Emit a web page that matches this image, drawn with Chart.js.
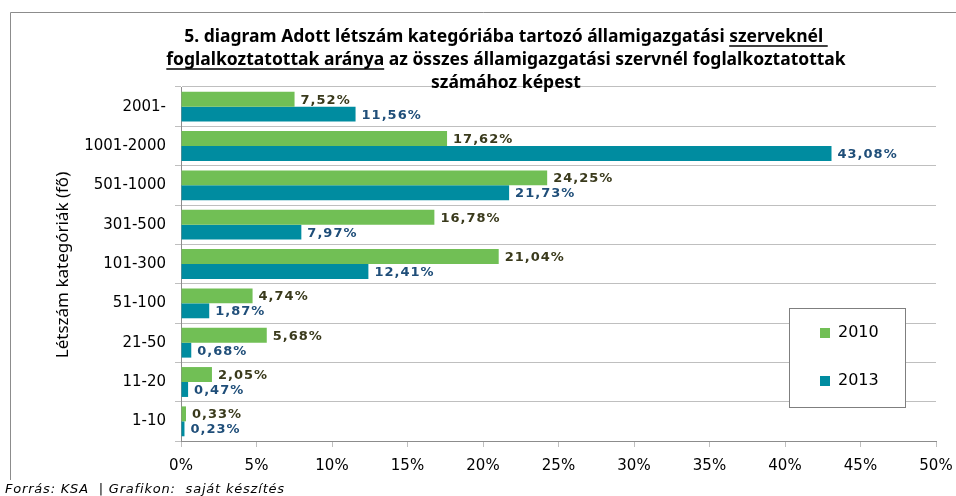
<!DOCTYPE html>
<html>
<head>
<meta charset="utf-8">
<script src="https://cdn.jsdelivr.net/npm/chart.js@4"></script>
<style>
  html, body { margin: 0; padding: 0; background: #fff; }
  #wrap { width: 956px; height: 496px; position: relative; }
</style>
</head>
<body>
<div id="wrap"><canvas id="chart" width="956" height="496"></canvas></div>
<script>
const categories = ['2001-', '1001-2000', '501-1000', '301-500', '101-300', '51-100', '21-50', '11-20', '1-10'];
const values2010 = [7.52, 17.62, 24.25, 16.78, 21.04, 4.74, 5.68, 2.05, 0.33];
const values2013 = [11.56, 43.08, 21.73, 7.97, 12.41, 1.87, 0.68, 0.47, 0.23];
const xTicks = [0, 5, 10, 15, 20, 25, 30, 35, 40, 45, 50];

const titleLines = [
  [['5. diagram Adott létszám kategóriába tartozó államigazgatási ', false], ['szerveknél ', true]],
  [['foglalkoztatottak aránya', true], [' az összes államigazgatási szervnél foglalkoztatottak', false]],
  [['számához képest', false]],
];

const GREEN = '#71bf55';
const TEAL = '#008ca0';
const GRID = '#bfbfbf';

const fmt = (v) => v.toFixed(2).replace('.', ',') + '%';

// frame, title, axis title, footer
const decorations = {
  id: 'decorations',
  beforeDraw(chart) {
    const ctx = chart.ctx;
    ctx.save();
    ctx.strokeStyle = '#8c8c8c';
    ctx.lineWidth = 1;
    ctx.beginPath();
    ctx.moveTo(10.5, 480);
    ctx.lineTo(10.5, 12.5);
    ctx.lineTo(956, 12.5);
    ctx.stroke();
    ctx.restore();
  },
  afterDraw(chart) {
    const ctx = chart.ctx;
    ctx.save();
    ctx.fillStyle = '#000';
    ctx.strokeStyle = '#000';
    ctx.textBaseline = 'alphabetic';
    ctx.font = 'bold 17.5px "Noto Sans", sans-serif';
    const lineY = [42, 65, 88];
    titleLines.forEach((segs, i) => {
      const total = segs.reduce((s, seg) => s + ctx.measureText(seg[0]).width, 0);
      let x = 506 - total / 2;
      segs.forEach(([txt, under]) => {
        const w = ctx.measureText(txt).width;
        ctx.textAlign = 'left';
        ctx.fillText(txt, x, lineY[i]);
        if (under) {
          ctx.lineWidth = 1.3;
          ctx.beginPath();
          ctx.moveTo(x, lineY[i] + 4);
          ctx.lineTo(x + w, lineY[i] + 4);
          ctx.stroke();
        }
        x += w;
      });
    });

    // y axis title
    ctx.save();
    ctx.translate(63, 265);
    ctx.rotate(-Math.PI / 2);
    ctx.textAlign = 'center';
    ctx.textBaseline = 'middle';
    ctx.font = '17px "Noto Sans", sans-serif';
    ctx.fillText('Létszám kategóriák (fő)', 0, 0);
    ctx.restore();

    // footer
    ctx.textAlign = 'left';
    ctx.font = 'italic 13px "DejaVu Sans", sans-serif';
    ctx.letterSpacing = '0.8px';
    ctx.fillStyle = '#000';
    ctx.fillText('Forrás: KSA  | Grafikon:  saját készítés', 5, 493);
    ctx.restore();
  },
};

// value labels at bar ends
const barLabels = {
  id: 'barLabels',
  afterDatasetsDraw(chart) {
    const ctx = chart.ctx;
    ctx.save();
    ctx.font = 'bold 13px "DejaVu Sans", sans-serif';
    ctx.letterSpacing = '1px';
    ctx.textAlign = 'left';
    ctx.textBaseline = 'middle';
    chart.data.datasets.forEach((ds, di) => {
      const meta = chart.getDatasetMeta(di);
      ctx.fillStyle = ds.labelColor;
      meta.data.forEach((bar, i) => {
        ctx.fillText(fmt(ds.data[i]), bar.x + 6, bar.y + 1);
      });
    });
    ctx.restore();
  },
};

// boxed legend inside the plot
const boxLegend = {
  id: 'boxLegend',
  afterDraw(chart) {
    const ctx = chart.ctx;
    ctx.save();
    ctx.fillStyle = '#fff';
    ctx.fillRect(789, 308, 116, 99);
    ctx.strokeStyle = '#7f7f7f';
    ctx.lineWidth = 1;
    ctx.strokeRect(789.5, 308.5, 116, 99);
    ctx.font = '16px "DejaVu Sans", sans-serif';
    ctx.textAlign = 'left';
    ctx.textBaseline = 'middle';
    chart.data.datasets.forEach((ds, i) => {
      const y = 333 + i * 48;
      ctx.fillStyle = ds.backgroundColor;
      ctx.fillRect(820, y - 5, 10, 10);
      ctx.fillStyle = '#000';
      ctx.fillText(ds.label, 838, y);
    });
    ctx.restore();
  },
};

new Chart(document.getElementById('chart'), {
  type: 'bar',
  data: {
    labels: categories,
    datasets: [
      {
        label: '2010',
        data: values2010,
        backgroundColor: GREEN,
        labelColor: '#3a3a1c',
        categoryPercentage: 0.76,
        barPercentage: 1.0,
      },
      {
        label: '2013',
        data: values2013,
        backgroundColor: TEAL,
        labelColor: '#1f4e79',
        categoryPercentage: 0.76,
        barPercentage: 1.0,
      },
    ],
  },
  plugins: [decorations, barLabels, boxLegend],
  options: {
    indexAxis: 'y',
    responsive: false,
    animation: false,
    layout: {
      padding: { left: 0, top: 87, right: 20, bottom: 0 },
    },
    plugins: {
      legend: { display: false },
      title: { display: false },
      tooltip: { enabled: false },
    },
    scales: {
      x: {
        min: 0,
        max: 50,
        afterFit: (scale) => {
          scale.height = 55;
          scale.paddingRight = 0;
          scale.paddingLeft = 0;
        },
        afterBuildTicks: (scale) => {
          scale.ticks = xTicks.map((v) => ({ value: v }));
        },
        grid: {
          drawOnChartArea: false,
          drawTicks: true,
          tickLength: 6,
          color: GRID,
        },
        border: { color: '#8c8c8c' },
        ticks: {
          padding: 10,
          color: '#000',
          font: { family: '"DejaVu Sans", sans-serif', size: 15 },
          callback: (v) => v + '%',
        },
      },
      y: {
        afterFit: (scale) => { scale.width = 181; },
        grid: {
          offset: true,
          drawTicks: true,
          tickLength: 6,
          color: GRID,
        },
        border: { color: '#8c8c8c' },
        ticks: {
          padding: 9,
          color: '#000',
          font: { family: '"DejaVu Sans", sans-serif', size: 15 },
        },
      },
    },
  },
});
</script>
</body>
</html>
